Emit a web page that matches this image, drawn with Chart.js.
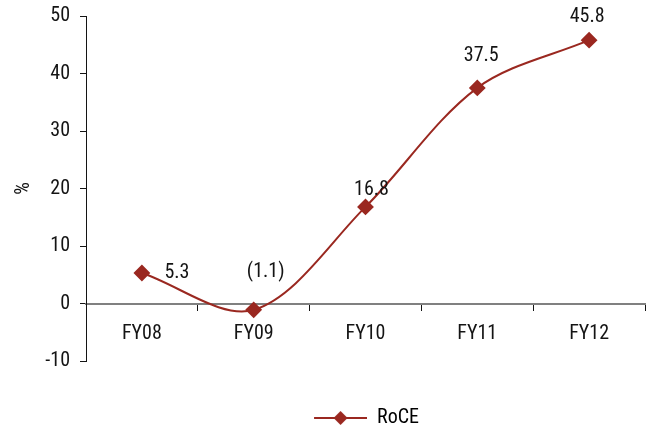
<!DOCTYPE html>
<html>
<head>
<meta charset="utf-8">
<style>
  html, body { margin: 0; padding: 0; background: #ffffff; }
  #wrap { width: 655px; height: 430px; }
</style>
<script src="https://cdn.jsdelivr.net/npm/chart.js@4/dist/chart.umd.min.js"></script>
</head>
<body>
<div id="wrap"><canvas id="roce"></canvas></div>
<script>
// Return on capital employed, FY08-FY12
const years = ['FY08', 'FY09', 'FY10', 'FY11', 'FY12'];
const roceValues = [5.3, -1.1, 16.8, 37.5, 45.8];
const yTicks = [-10, 0, 10, 20, 30, 40, 50];

// where each value label sits relative to its point (px)
const labelOffsets = [[35, 0], [12, -38], [6, -17], [4, -32], [-2, -23]];

const FONT = '"Roboto Condensed", "DejaVu Sans Condensed", sans-serif';
const FS = 20;
const RED = '#9a2820';
const INK = '#141414';

function fmt(v) {
  return v < 0 ? '(' + Math.abs(v).toFixed(1) + ')' : v.toFixed(1);
}

// legend swatch: short line with a diamond in the middle, blank lead-in on the left
function legendSwatch() {
  const lead = 88, len = 53;
  const c = document.createElement('canvas');
  c.width = lead + len; c.height = 16;
  const g = c.getContext('2d');
  g.strokeStyle = RED; g.lineWidth = 2;
  g.beginPath(); g.moveTo(lead, 8); g.lineTo(lead + len, 8); g.stroke();
  const mid = lead + len / 2;
  g.fillStyle = RED;
  g.beginPath(); g.moveTo(mid, 1); g.lineTo(mid + 7, 8); g.lineTo(mid, 15); g.lineTo(mid - 7, 8); g.closePath(); g.fill();
  return c;
}

const valueLabels = {
  id: 'valueLabels',
  afterDatasetsDraw(chart) {
    const ctx = chart.ctx;
    const meta = chart.getDatasetMeta(0);
    ctx.save();
    ctx.font = FS + 'px ' + FONT;
    ctx.fillStyle = INK;
    ctx.textAlign = 'center';
    ctx.textBaseline = 'middle';
    meta.data.forEach((pt, i) => {
      const [dx, dy] = labelOffsets[i];
      ctx.fillText(fmt(roceValues[i]), pt.x + dx, pt.y + dy);
    });
    ctx.restore();
  }
};

new Chart(document.getElementById('roce'), {
  type: 'line',
  data: {
    labels: years,
    datasets: [{
      label: 'RoCE',
      data: roceValues,
      borderColor: RED,
      backgroundColor: RED,
      borderWidth: 2,
      tension: 0.33,
      pointStyle: 'rectRot',
      pointRadius: 7,
      pointHoverRadius: 7,
      pointBackgroundColor: RED,
      pointBorderColor: RED,
      fill: false
    }]
  },
  options: {
    responsive: true,
    maintainAspectRatio: false,
    animation: false,
    events: [],
    layout: { padding: { left: 0, right: 10, top: 16, bottom: 0 } },
    plugins: {
      tooltip: { enabled: false },
      legend: {
        position: 'bottom',
        maxHeight: 69,
        labels: {
          usePointStyle: true,
          pointStyleWidth: 141,
          boxHeight: 16,
          padding: 47,
          color: INK,
          font: { family: FONT, size: FS },
          generateLabels(chart) {
            return [{
              text: 'RoCE',
              pointStyle: legendSwatch(),
              fillStyle: RED,
              strokeStyle: RED,
              lineWidth: 0,
              datasetIndex: 0,
              hidden: false
            }];
          }
        }
      }
    },
    scales: {
      x: {
        type: 'category',
        position: { y: 0 },
        offset: true,
        border: { display: true, color: '#808080', width: 2 },
        grid: { display: true, offset: true, drawOnChartArea: false, drawTicks: true, tickLength: 6, tickColor: INK, tickWidth: 1 },
        ticks: { color: INK, padding: 12, font: { family: FONT, size: FS } }
      },
      y: {
        min: -10,
        max: 50,
        afterBuildTicks(scale) { scale.ticks = yTicks.map(v => ({ value: v })); },
        afterFit(scale) {
          scale.width = 86;
          scale.paddingTop = 0;
          scale.paddingBottom = 0;
        },
        border: { display: true, color: INK, width: 1 },
        grid: { display: true, drawOnChartArea: false, drawTicks: true, tickLength: 6, tickColor: INK },
        ticks: { color: INK, padding: 10, font: { family: FONT, size: FS } },
        title: { display: true, text: '%', color: INK, padding: { top: 12, bottom: 0 }, font: { family: FONT, size: FS } }
      }
    }
  },
  plugins: [valueLabels]
});
</script>
</body>
</html>
